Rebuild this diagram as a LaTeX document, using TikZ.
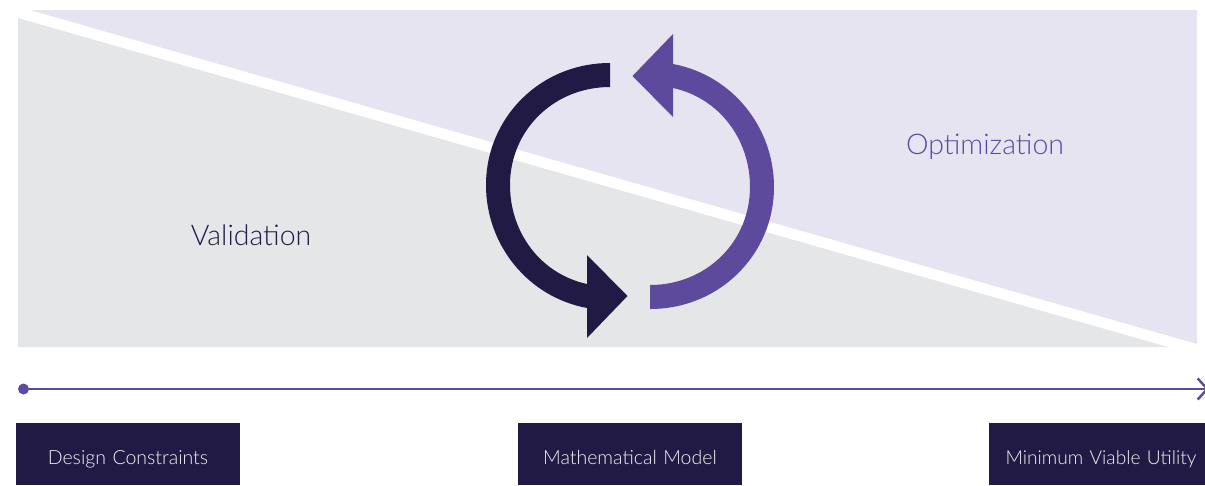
\documentclass[tikz,border=0pt]{standalone}
\usepackage{fontspec}
\setmainfont{Lato Light}
\usetikzlibrary{arrows.meta,positioning}
\definecolor{inkdark}{HTML}{201A44}
\definecolor{inkpurple}{HTML}{5E4A9C}
\definecolor{fieldlav}{HTML}{E6E4F1}
\definecolor{fieldgray}{HTML}{E5E6E8}
\tikzset{
    stagebox/.style={fill=inkdark, text=white!95!inkdark, text width=4.48cm, align=center, text height=0.82cm, text depth=0.42cm, inner sep=0pt, font=\fontsize{11.1}{13}\selectfont},
    fieldlabel/.style={font=\fontsize{16.2}{19}\selectfont}
}

\begin{document}
\begin{tikzpicture}[x=0.02cm, y=-0.02cm]
    \useasboundingbox (0,0) rectangle (1205,485);
    \clip (0,0) rectangle (1205,485);

    % Two fields
    \fill[fieldlav] (30,10) -- (1197,10) -- (1197,344) -- cycle;
    \fill[fieldgray] (18,18) -- (1168,347) -- (18,347) -- cycle;
    \node[fieldlabel, text=inkpurple] (optimization) at (985,146.5) {Optimization};
    \node[fieldlabel, text=inkdark] (validation) at (251,235) {Validation};

    % Cycle arrows
    \fill[inkdark] (610,63) .. controls (540,63) and (486,118) .. (486,185)
        .. controls (486,245) and (528,297) .. (587,308) -- (587,338) -- (627.5,296) -- (587,255) -- (587,284)
        .. controls (541,274) and (510,233) .. (510,185)
        .. controls (510,130) and (554,87) .. (610,87) -- cycle;
    \fill[inkpurple] (650,309) .. controls (720,309) and (774,254) .. (774,187)
        .. controls (774,127) and (732,75) .. (673,64) -- (673,34) -- (632.5,76) -- (673,117) -- (673,88)
        .. controls (719,98) and (750,139) .. (750,187)
        .. controls (750,242) and (706,285) .. (650,285) -- cycle;

    % Timeline
    \coordinate (tstart) at (23.5,389);
    \coordinate (tend) at (1209,389);
    \fill[inkpurple] (tstart) circle (5.5);
    \draw[inkpurple, line width=1.4pt, -{Straight Barb[length=5.5pt,width=12pt]}] (tstart) -- (tend);

    % Stages
    \node[stagebox] (design) at (128,454) {Design Constraints};
    \node[stagebox] (model) at (630,454) {Mathematical Model};
    \node[stagebox, font=\fontsize{10.9}{13}\selectfont] (utility) at (1101,454) {Minimum Viable Utility};
\end{tikzpicture}
\end{document}
